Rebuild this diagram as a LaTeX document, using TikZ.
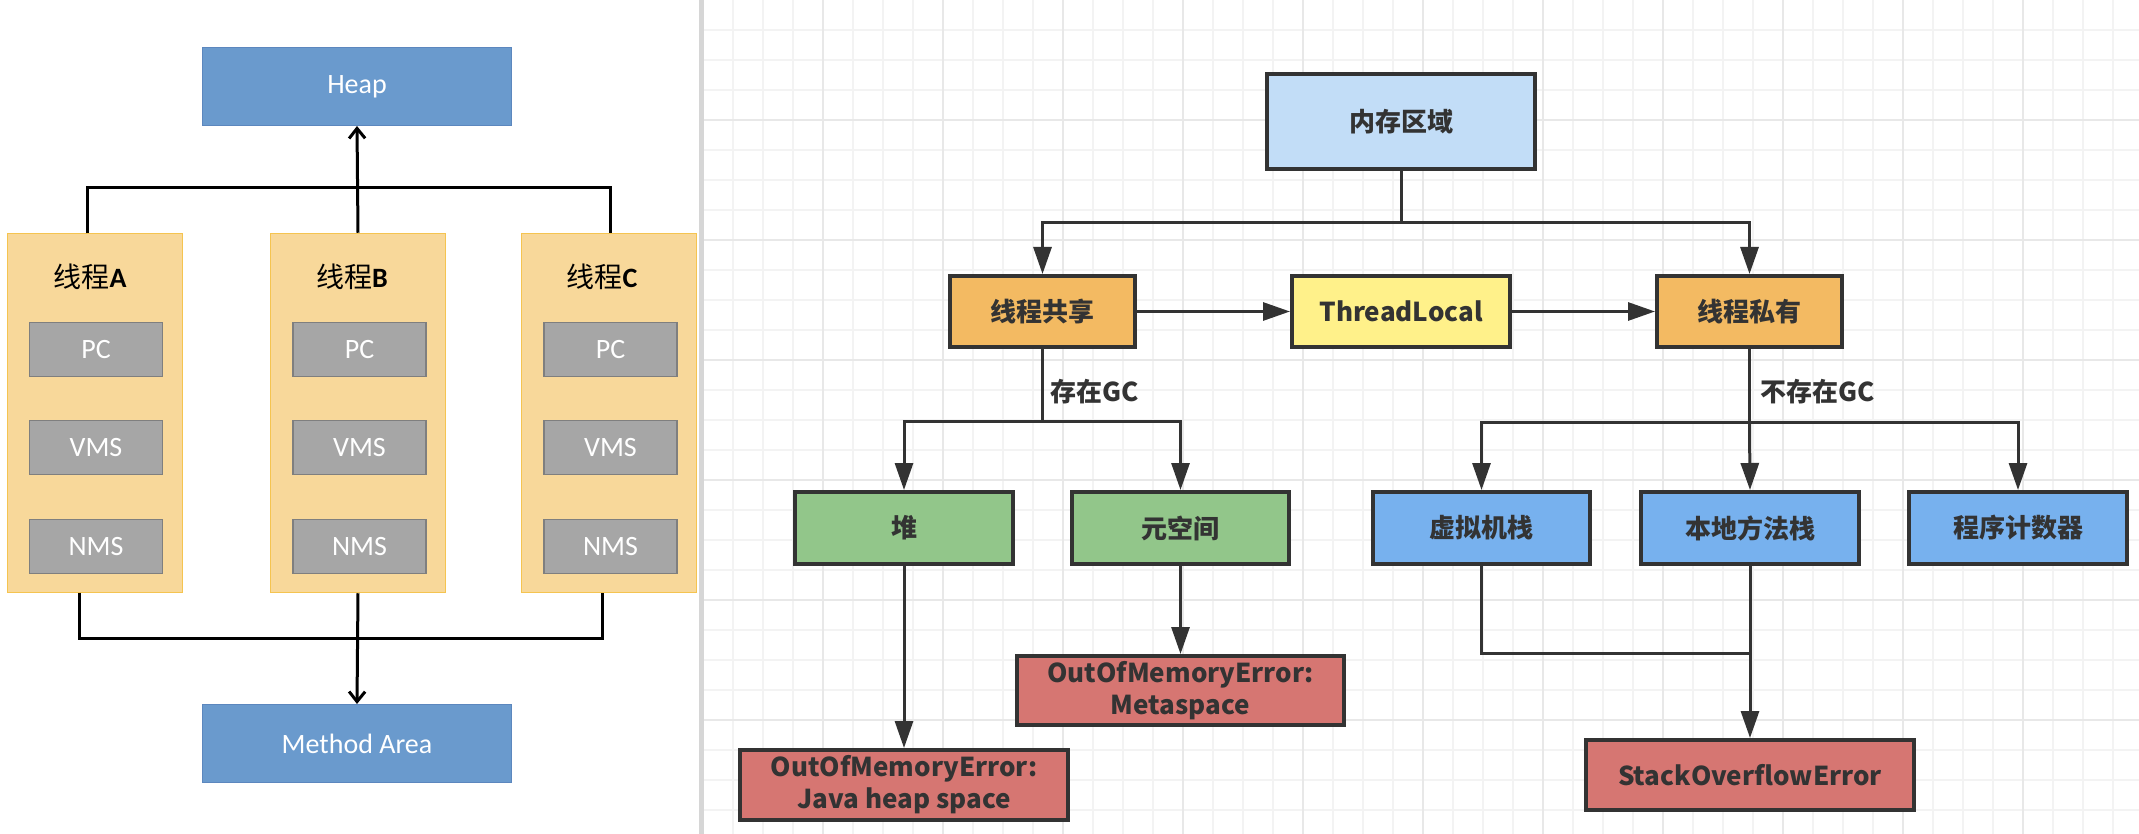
\documentclass[tikz,border=0pt]{standalone}
\usepackage{fontspec}
\setmainfont{Carlito}
\newfontfamily\cjk{Noto Sans CJK SC}
\usetikzlibrary{arrows.meta}
\definecolor{heapblue}{RGB}{106,154,205}
\definecolor{heapedge}{RGB}{92,135,190}
\definecolor{threadfill}{RGB}{248,216,154}
\definecolor{threadedge}{RGB}{245,196,80}
\definecolor{grayfill}{RGB}{166,166,166}
\definecolor{grayedge}{RGB}{127,127,127}
\definecolor{ink}{RGB}{51,51,51}
\definecolor{memfill}{RGB}{194,221,247}
\definecolor{orangefill}{RGB}{243,186,98}
\definecolor{yellowfill}{RGB}{255,241,138}
\definecolor{greenfill}{RGB}{146,198,138}
\definecolor{bluefill}{RGB}{119,177,238}
\definecolor{redfill}{RGB}{214,118,114}
\definecolor{gridminor}{RGB}{243,243,243}
\definecolor{gridmajor}{RGB}{232,232,232}
\definecolor{divider}{RGB}{214,214,214}
\begin{document}
\begin{tikzpicture}[x=1pt,y=-1pt,
  leftbox/.style={draw=heapedge, line width=1pt, fill=heapblue, text=white,
    font=\fontsize{28pt}{32pt}\selectfont, minimum width=309pt, minimum height=78pt, inner sep=0pt},
  threadbox/.style={draw=threadedge, line width=1.5pt, fill=threadfill,
    minimum width=175pt, minimum height=359pt, inner sep=0pt},
  threadtitle/.style={text=black, font=\fontsize{28pt}{32pt}\selectfont, inner sep=0pt},
  graybox/.style={draw=grayedge, line width=1.5pt, fill=grayfill, text=white,
    font=\fontsize{28pt}{32pt}\selectfont, minimum width=133pt, minimum height=54pt, inner sep=0pt},
  leftline/.style={line width=3pt, draw=black},
  leftarr/.style={line width=3pt, draw=black, -{Straight Barb[length=10pt,width=16pt]}},
  rbox/.style={draw=ink, line width=4pt, text=ink, align=center,
    font=\cjk\bfseries\fontsize{26pt}{32pt}\selectfont, inner sep=0pt},
  conn/.style={line width=3pt, draw=ink},
  arr/.style={line width=3pt, draw=ink, -{Triangle[length=27pt,width=18pt]}},
  lbl/.style={text=ink, font=\cjk\bfseries\fontsize{26pt}{30pt}\selectfont, inner sep=0pt, anchor=west},
  gminor/.style={draw=gridminor, line width=1.5pt},
  gmajor/.style={draw=gridmajor, line width=2pt}
]
\useasboundingbox (0,0) rectangle (2139,834);
\fill[white] (0,0) rectangle (2139,834);
% grid
\foreach \x in {703,733,...,2139} \draw[gminor] (\x,0) -- (\x,834);
\foreach \y in {30,60,...,834} \draw[gminor] (703,\y) -- (2139,\y);
\foreach \x in {823,943,...,2139} \draw[gmajor] (\x,0) -- (\x,834);
\foreach \y in {120,240,...,834} \draw[gmajor] (703,\y) -- (2139,\y);
\fill[divider] (699,0) rectangle (704,834);

% ---------- left panel ----------
\node[leftbox] (heap) at (357,86.5) {Heap};
\node[leftbox] (method) at (357,743.5) {Method Area};
\node[threadbox] (tA) at (95,413) {};
\node[threadbox] (tB) at (358,413) {};
\node[threadbox] (tC) at (609,413) {};
\node[threadtitle] (nA) at (90,277) {{\cjk 线程}\textbf{A}};
\node[threadtitle] (nB) at (352,277) {{\cjk 线程}\textbf{B}};
\node[threadtitle] (nC) at (602,277) {{\cjk 线程}\textbf{C}};
\foreach \t/\x in {A/96,B/359.5,C/610.5}{
  \node[graybox] (pc\t) at (\x,349.5) {PC};
  \node[graybox] (vms\t) at (\x,447.5) {VMS};
  \node[graybox] (nms\t) at (\x,546.5) {NMS};
}
\coordinate (aTop) at (87,233.5);
\coordinate (cTop) at (610,233.5);
\coordinate (aBot) at (79,592.5);
\coordinate (cBot) at (602,592.5);
\draw[leftline] (aTop) -- (87,188) -- (610,188) -- (cTop);
\draw[leftarr] (tB.north) -- (heap.south);
\draw[leftline] (aBot) -- (79,638) -- (602,638) -- (cBot);
\draw[leftarr] (tB.south) -- (method.north);

% ---------- right panel ----------
\node[rbox, fill=memfill, minimum width=268pt, minimum height=95pt] (mem) at (1401,121.5) {内存区域};
\node[rbox, fill=orangefill, minimum width=185pt, minimum height=71pt] (share) at (1042.5,311.5) {线程共享};
\node[rbox, fill=yellowfill, minimum width=218pt, minimum height=71pt] (tl) at (1401,311.5) {ThreadLocal};
\node[rbox, fill=orangefill, minimum width=185pt, minimum height=71pt] (priv) at (1749.5,311.5) {线程私有};
\node[rbox, fill=greenfill, minimum width=218pt, minimum height=72pt] (heapn) at (904,528) {堆};
\node[rbox, fill=greenfill, minimum width=217pt, minimum height=72pt] (meta) at (1180.5,528) {元空间};
\node[rbox, fill=bluefill, minimum width=217pt, minimum height=72pt] (vmsn) at (1481.5,528) {虚拟机栈};
\node[rbox, fill=bluefill, minimum width=218pt, minimum height=72pt] (nmsn) at (1750,528) {本地方法栈};
\node[rbox, fill=bluefill, minimum width=218pt, minimum height=72pt] (pcn) at (2018,528) {程序计数器};
\node[rbox, fill=redfill, minimum width=328pt, minimum height=70pt] (oomh) at (904,785) {OutOfMemoryError:\\Java heap space};
\node[rbox, fill=redfill, minimum width=327pt, minimum height=69pt] (oomm) at (1180.5,690.5) {OutOfMemoryError:\\Metaspace};
\node[rbox, fill=redfill, minimum width=328pt, minimum height=70pt] (soe) at (1750,775) {StackOverflowError};

\coordinate (busTop) at (1401,223);
\draw[conn] (mem.south) -- (busTop);
\draw[arr] (busTop) -| (share.north);
\draw[arr] (busTop) -| (priv.north);
\draw[arr] (share.east) -- (tl.west);
\draw[arr] (tl.east) -- (priv.west);

\coordinate (busL) at (1042.5,421);
\draw[conn] (share.south) -- (busL);
\draw[arr] (busL) -| (heapn.north);
\draw[arr] (busL) -| (meta.north);
\node[lbl] (gc1) at (1050,392) {存在GC};

\coordinate (busR) at (1749.5,422);
\draw[conn] (priv.south) -- (busR);
\draw[arr] (busR) -| (vmsn.north);
\draw[arr] (busR) -- (nmsn.north);
\draw[arr] (busR) -| (pcn.north);
\node[lbl] (gc2) at (1760,392) {不存在GC};

\draw[arr] (heapn.south) -- (oomh.north);
\draw[arr] (meta.south) -- (oomm.north);
\coordinate (join) at (1750,653);
\draw[conn] (vmsn.south) |- (join);
\draw[arr] (nmsn.south) -- (soe.north);
\end{tikzpicture}
\end{document}
